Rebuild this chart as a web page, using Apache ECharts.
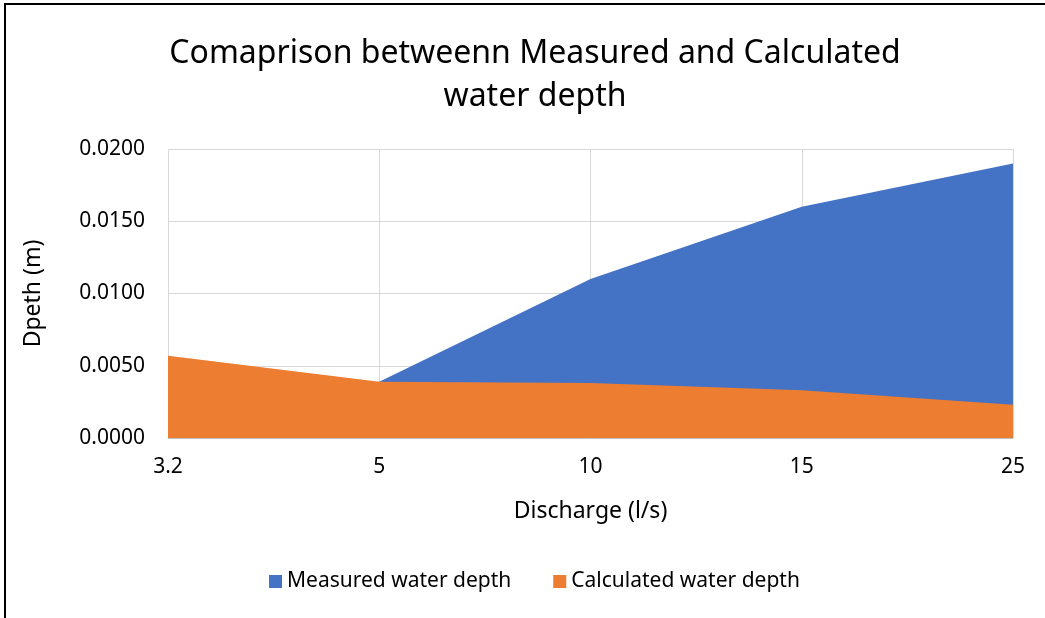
<!DOCTYPE html>
<html>
<head>
<meta charset="utf-8">
<script src="https://cdn.jsdelivr.net/npm/echarts@6/dist/echarts.min.js"></script>
<style>
html,body{margin:0;padding:0;background:#fff;}
#wrap{position:relative;width:1045px;height:618px;overflow:hidden;}
#frame{position:absolute;left:4px;top:3px;width:1100px;height:700px;border-left:2px solid #000;border-top:2px solid #000;box-sizing:border-box;pointer-events:none;z-index:2;}
#chart{position:absolute;left:0;top:0;width:1045px;height:618px;}
</style>
</head>
<body>
<div id="wrap"><div id="chart"></div><div id="frame"></div></div>
<script>
const categories = ['3.2', '5', '10', '15', '25'];
const measuredDepth = [0.0030, 0.0039, 0.0110, 0.0160, 0.0190];
const calculatedDepth = [0.0057, 0.0039, 0.0038, 0.0033, 0.0023];
const seriesNames = ['Measured water depth', 'Calculated water depth'];

const FONT = '"Noto Sans", "Open Sans", sans-serif';
const chart = echarts.init(document.getElementById('chart'), null, {renderer: 'canvas'});
chart.setOption({
  animation: false,
  backgroundColor: '#fff',
  title: {
    text: 'Comaprison betweenn Measured and Calculated\nwater depth',
    left: 530, textAlign: 'center', top: 27,
    textStyle: {fontFamily: FONT, fontSize: 32, fontWeight: 'normal', color: '#000', lineHeight: 43}
  },
  legend: {
    bottom: 21, left: 264,
    itemWidth: 13, itemHeight: 13, itemGap: 42,
    icon: 'rect',
    textStyle: {fontFamily: FONT, fontSize: 21, color: '#000'},
    data: seriesNames
  },
  grid: {left: 168, right: 32, top: 149, bottom: 180, containLabel: false},
  xAxis: {
    type: 'category', data: categories, boundaryGap: false,
    name: 'Discharge (l/s)', nameLocation: 'middle', nameGap: 62,
    nameTextStyle: {fontFamily: FONT, fontSize: 23, color: '#000'},
    axisLine: {show: true, lineStyle: {color: '#BFBFBF', width: 1}},
    axisTick: {show: false},
    axisLabel: {fontFamily: FONT, fontSize: 21, color: '#000', margin: 19},
    splitLine: {show: true, lineStyle: {color: '#D9D9D9', width: 1}}
  },
  yAxis: {
    type: 'value', min: 0, max: 0.02, interval: 0.005,
    name: 'Dpeth (m)', nameLocation: 'middle', nameGap: 123, nameRotate: 90,
    nameTextStyle: {fontFamily: FONT, fontSize: 23, color: '#000'},
    axisLine: {show: false}, axisTick: {show: false},
    axisLabel: {fontFamily: FONT, fontSize: 21, color: '#000', margin: 23,
      formatter: v => v.toFixed(4)},
    splitLine: {show: true, lineStyle: {color: '#D9D9D9', width: 1}}
  },
  series: [
    {name: seriesNames[0], type: 'line', data: measuredDepth, showSymbol: false, symbol: 'none',
     lineStyle: {width: 0}, itemStyle: {color: '#4472C4'}, areaStyle: {color: '#4472C4', opacity: 1}, z: 2},
    {name: seriesNames[1], type: 'line', data: calculatedDepth, showSymbol: false, symbol: 'none',
     lineStyle: {width: 0}, itemStyle: {color: '#ED7D31'}, areaStyle: {color: '#ED7D31', opacity: 1}, z: 3}
  ]
});
</script>
</body>
</html>
